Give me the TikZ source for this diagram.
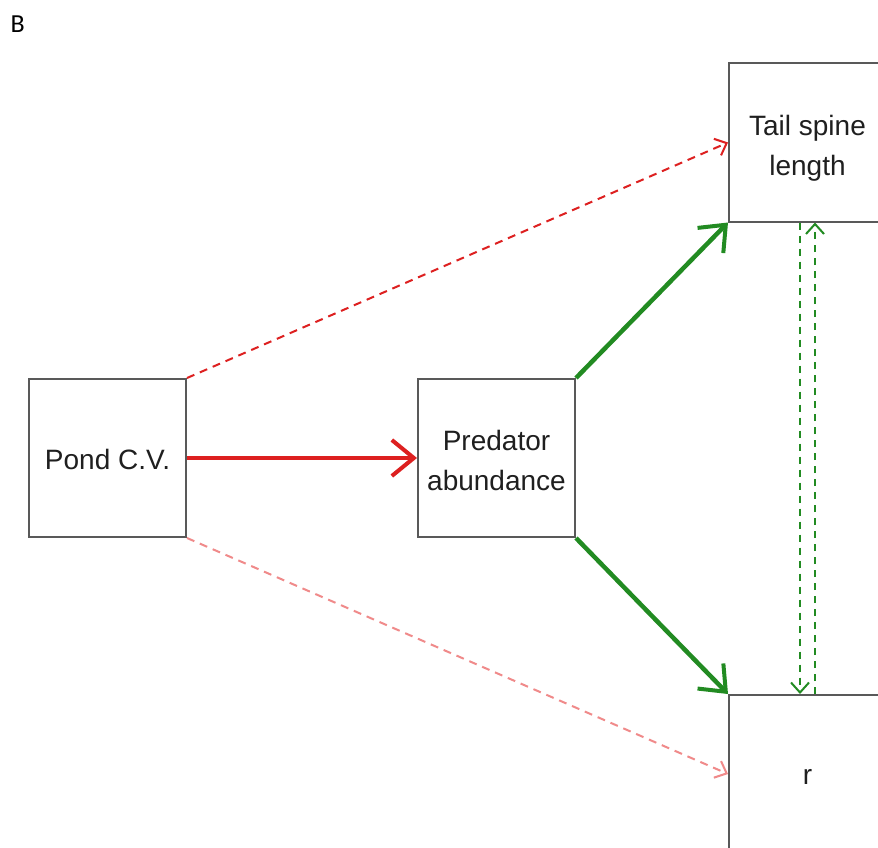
\documentclass[tikz,border=0pt]{standalone}
\usepackage{fontspec}
\setmainfont{Liberation Sans}
\newfontfamily\labelfont{Carlito}
\usetikzlibrary{arrows.meta}
\definecolor{pathred}{HTML}{DD2020}
\definecolor{pathpink}{HTML}{F08A8A}
\definecolor{pathgreen}{HTML}{228B22}
\begin{document}
\begin{tikzpicture}[x=1pt,y=-1pt,
  varbox/.style={draw=black!65, line width=2pt, minimum width=157pt, minimum height=158pt,
    inner sep=0pt, align=center, font=\fontsize{28}{40}\selectfont, text=black!88},
  bigtip/.style={-{Straight Barb[length=22pt,width=36pt,line width=4pt]}},
  smalltip/.style={-{Straight Barb[length=10pt,width=18pt,line width=2pt]}},
  strong/.style={line width=4.5pt},
  weak/.style={line width=2pt, dash pattern=on 8pt off 6pt},
  corr/.style={line width=2pt, pathgreen, dash pattern=on 7pt off 6pt, -{Straight Barb[length=10pt,width=18pt,line width=2pt]}}
]
\useasboundingbox (0,0) rectangle (878,848);
\clip (0,0) rectangle (878,848);
\fill[white] (0,0) rectangle (878,848);

\node[anchor=base west, font=\labelfont\fontsize{26}{30}\selectfont] (panel) at (7,33) {B};

\node[varbox, text height=24pt] (pond) at (107.5,458) {Pond C.V.};
\node[varbox, text height=64.5pt] (pred) at (496.5,458) {Predator\\abundance};
\node[varbox, text height=71pt] (tail) at (807.5,142.5) {Tail spine\\length};
\node[varbox, text height=21pt] (r) at (807.5,774) {r};

% direct effects of pond variability
\draw[pathred, strong, bigtip] (pond.east) -- (pred.west);
\draw[pathred, weak, smalltip] (pond.north east) -- (tail.west);
\draw[pathpink, weak, smalltip] (pond.south east) -- (r.west);

% effects of predators
\draw[pathgreen, strong, bigtip] (pred.north east) -- (tail.south west);
\draw[pathgreen, strong, bigtip] (pred.south east) -- (r.north west);

% residual correlation
\draw[corr] ([xshift=-7.5pt]tail.south) -- ([xshift=-7.5pt]r.north);
\draw[corr] ([xshift=7.5pt]r.north) -- ([xshift=7.5pt]tail.south);
\end{tikzpicture}
\end{document}
